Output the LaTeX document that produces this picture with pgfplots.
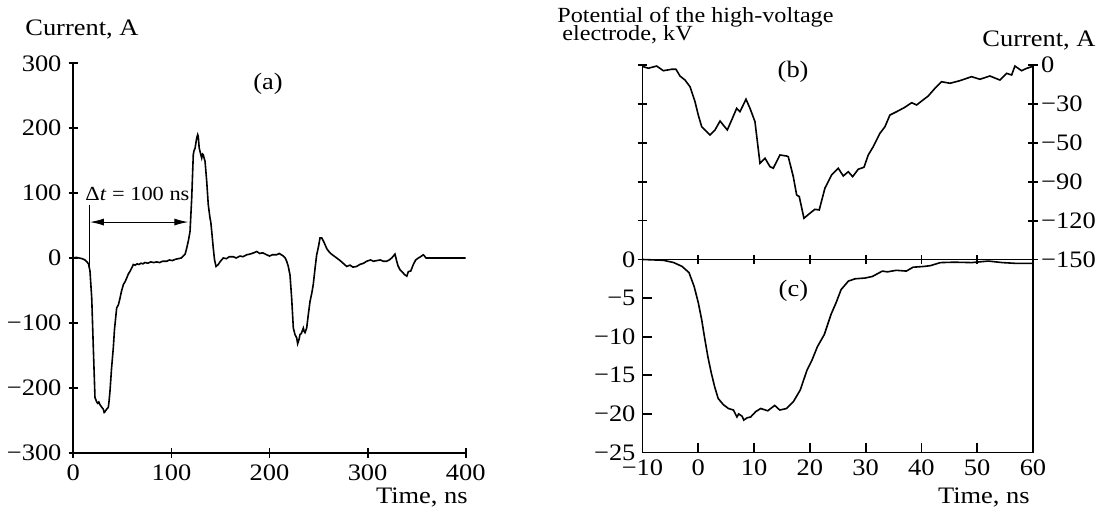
\documentclass[border=0pt]{standalone}
\usepackage{pgfplots}
\pgfplotsset{compat=1.18}
\usepackage{fontspec}
\setmainfont{Liberation Serif}[FakeStretch=1.12]
\usetikzlibrary{arrows.meta}
\newcommand{\tk}{\fontsize{11.8}{13}\selectfont}
\begin{document}
\begin{tikzpicture}
\useasboundingbox (0pt,0pt) rectangle (548.5pt,257.5pt);
\pgfplotsset{
  every axis/.append style={scale only axis, tick align=inside, major tick length=4.8pt,
    every tick/.style={line width=0.9pt,black},
    tick label style={font=\tk}, clip=false},
  nolines/.style={axis line style={line width=0.9pt,-}},
}
% ---------------- (a) ----------------
\begin{axis}[at={(36.65pt,31.15pt)}, anchor=south west, width=196.2pt, height=194.7pt,
  xmin=0,xmax=400,ymin=-300,ymax=300, axis x line=bottom, axis y line=left, nolines,
  xtick={0,100,200,300,400}, xticklabels={0,100,200,300,400},
  ytick={-300,-200,-100,0,100,200,300}, yticklabels={−300,−200,−100,0,100,200,300}]
\addplot[black, line width=0.8pt] coordinates {
(0,0) (3,1) (6,0) (9,-1) (11.9,-3) (14,-6) (15.5,-9) (17,-20) (18.8,-62) (20.4,-138) (22.1,-215) (23.9,-222) (25,-224) (26,-222) (27.2,-226) (29,-230) (30.6,-233) (31.5,-238) (32.3,-237) (33,-235) (34,-233) (35.7,-230) (36.5,-220) (37.4,-205) (39,-170) (40.8,-138) (42,-110) (43,-95) (44.2,-77) (46,-72) (47.6,-62) (49,-52) (51,-41) (53,-36) (54.4,-31) (56,-25) (58,-20) (60,-14) (61.2,-10) (63,-11) (65,-9) (67,-10) (69,-8) (71,-9) (73,-7) (76,-8) (79,-6) (82,-7) (85,-6) (88,-7) (91,-5) (95.2,-5) (98,-3) (101,-4) (104,-2) (107,-1) (110,0) (112.1,3) (114,6) (115.6,15) (117.5,28) (119,41) (120.7,92) (122.3,159) (123,165) (124.1,169) (125.8,185) (126.8,190) (127.4,187) (128.3,170) (129.2,164) (130.2,158) (130.9,154) (131.8,160) (132.5,159) (133.5,153) (134.3,149) (136,118) (137.6,82) (139.3,62) (140.2,55) (141.1,41) (142.7,15) (144,-3) (145.5,-13) (147.8,-10) (150,-5) (152.9,0) (156,-1) (159,2) (163.1,2) (166,0) (170,3) (173,2) (176.8,5) (180,6) (184,8) (187,10) (190,7) (193,8) (197.1,5) (200,3) (203,5) (207.3,5) (210,7) (214.1,3) (216,0) (217.5,-5) (219,-12) (220.9,-26) (222.6,-62) (224.3,-108) (226,-118) (227.7,-123) (228.7,-132) (230,-126) (231.1,-118) (232.5,-116) (234.5,-108) (235.3,-113) (236.2,-115) (237.9,-108) (239.5,-88) (241.3,-67) (243,-55) (244.6,-41) (246.5,-15) (248.1,5) (250,18) (251.5,31) (253.2,31) (255,26) (256.5,21) (258.5,14) (261.6,8) (264,5) (268.5,0) (272,-4) (275,-8) (278.7,-13) (282,-11) (285,-14) (288.9,-13) (292,-10) (296,-8) (299.1,-5) (303,-3) (306,-5) (309.3,-4) (313,-3) (316,-5) (319.5,-5) (322,-3) (324.6,0) (327.9,6) (329.7,-5) (331,-12) (333,-18) (335.5,-22) (338.1,-26) (340,-28) (341.5,-21) (344,-20) (346.6,-10) (349,-3) (351.7,0) (354,2) (356.8,5) (358,3) (359.5,0) (400,0)
};
\node[font=\tk] at (axis cs:198.5,269) {(a)};
\draw[line width=0.5pt] (axis cs:17,82) -- (axis cs:17,-12);
\draw[{Latex[length=7pt,width=3.5pt]}-{Latex[length=7pt,width=3.5pt]}, line width=0.5pt] (axis cs:17,55.4) -- (axis cs:117.2,55.4);
\node[font=\fontsize{10}{12}\selectfont] at (axis cs:65.4,98.5) {Δ\textit{t} = 100 ns};
\end{axis}
% ---------------- (b) ----------------
\begin{axis}[at={(321.25pt,127.75pt)}, anchor=south west, width=195.25pt, height=97.25pt,
  xmin=-10,xmax=60,ymin=-150,ymax=0, axis x line=bottom, axis y line=left, nolines,
  xtick={-10,0,10,20,30,40,50,60}, xticklabels={},
  ytick={-150,-120,-90,-60,-30,0}, yticklabels={}]
\addplot[black, line width=0.8pt] coordinates {
(-10,-1.5) (-9.86,-1.3) (-8.96,-2.5) (-7.46,-0.8) (-6.27,-4.4) (-4.77,-3.3) (-4.0,-3.3) (-3.28,-8.5) (-2.38,-11.6) (-1.49,-16.7) (-0.59,-28.3) (0.0,-38.6) (0.61,-47.6) (1.51,-51.4) (2.10,-54) (3.0,-50.1) (3.9,-43.2) (4.48,-46.3) (5.2,-50.1) (5.99,-42.4) (6.88,-33.4) (7.47,-36) (8.06,-30.8) (8.55,-26.4) (9.27,-33.4) (10.16,-43.7) (11.06,-75.8) (11.96,-71.9) (12.85,-78.4) (13.44,-79.6) (14.64,-69.4) (15.84,-70.2) (16.13,-70.7) (17.03,-86.1) (17.63,-100.2) (18.1,-101.5) (18.94,-118.2) (20.02,-114.3) (20.91,-111.3) (21.68,-111.8) (22.7,-95) (23.9,-84.8) (25.09,-79.6) (25.99,-85.6) (26.88,-82.3) (27.67,-86.1) (28.67,-80.4) (29.7,-78.9) (30.47,-69.4) (31.36,-63) (32.56,-52.7) (33.46,-47.6) (34.35,-38.6) (35.56,-36) (37.04,-32.6) (38.24,-29.1) (39.14,-30.8) (41.22,-23.9) (42.42,-18) (43.62,-12.9) (45.11,-14.1) (46.9,-12.1) (49.0,-9) (50.48,-11) (52.28,-8.5) (54.07,-11.6) (55.27,-6.4) (56.17,-7.7) (56.76,-0.8) (57.96,-4.4) (58.85,-2.6) (60,-1)
};
\node[font=\tk] at (axis cs:17,-5.4) {(b)};
\end{axis}
\begin{axis}[at={(321.25pt,127.75pt)}, anchor=south west, width=195.25pt, height=97.25pt,
  xmin=-10,xmax=60,ymin=-150,ymax=0, axis x line=none, axis y line=right, nolines,
  yticklabel style={inner sep=1.5pt},
  ytick={-150,-120,-90,-60,-30,0}, yticklabels={−150,−120,−90,−50,−30,0}]
\end{axis}
% ---------------- (c) ----------------
\begin{axis}[at={(321.25pt,31.25pt)}, anchor=south west, width=195.25pt, height=96.5pt,
  xmin=-10,xmax=60,ymin=-25,ymax=0, nolines,
  xtick={-10,0,10,20,30,40,50,60}, xticklabels={−10,0,10,20,30,40,50,60}, xtick pos=bottom,
  ytick={-25,-20,-15,-10,-5,0}, yticklabels={−25,−20,−15,−10,−5,0}, ytick pos=left]
\addplot[black, line width=0.8pt] coordinates {
(-10,0) (-6.26,-0.1) (-4.4,-0.4) (-2.9,-0.9) (-1.66,-1.7) (-0.74,-3.5) (0,-5.6) (0.61,-7.8) (1.1,-10) (1.72,-12.6) (2.33,-14.7) (2.94,-16.5) (3.56,-18) (4.48,-18.8) (5.4,-19.3) (6.3,-19.5) (6.93,-20.4) (7.24,-20) (7.85,-20.3) (8.16,-20.8) (8.77,-20.5) (9.39,-20.4) (10.3,-19.7) (11.2,-19.3) (12.45,-19.6) (13.7,-18.9) (14.6,-19.5) (15.83,-19.3) (17.06,-18.4) (18.28,-16.9) (19.5,-14.3) (20.4,-13) (21.35,-11.3) (22.6,-9.7) (23.8,-7.1) (24.7,-5.6) (25.6,-3.9) (26.9,-2.8) (28.1,-2.5) (29.9,-2.4) (31.2,-2.2) (33,-1.5) (33.9,-1.6) (35.5,-1.4) (37.3,-1.5) (38.5,-1.0) (40.4,-0.9) (41.6,-0.8) (43.4,-0.4) (45.9,-0.35) (49,-0.4) (52,-0.2) (54.5,-0.4) (56.9,-0.5) (60,-0.5)
};
\node[font=\tk] at (axis cs:17.05,-4.1) {(c)};
\end{axis}
% ---------------- labels ----------------
\node[anchor=base west, inner sep=0, font=\tk] at (12.5pt,239.5pt) {Current, A};
\node[anchor=base east, inner sep=0, font=\tk] at (234pt,6pt) {Time, ns};
\node[anchor=base east, inner sep=0, font=\tk] at (515pt,6pt) {Time, ns};
\node[anchor=base west, inner sep=0, font=\fontsize{10.8}{12}\selectfont] at (278.5pt,246.2pt) {Potential of the high-voltage};
\node[anchor=base west, inner sep=0, font=\fontsize{10.8}{12}\selectfont] at (281pt,237pt) {electrode, kV};
\node[anchor=base west, inner sep=0, font=\tk] at (491pt,234.2pt) {Current, A};
\end{tikzpicture}
\end{document}
